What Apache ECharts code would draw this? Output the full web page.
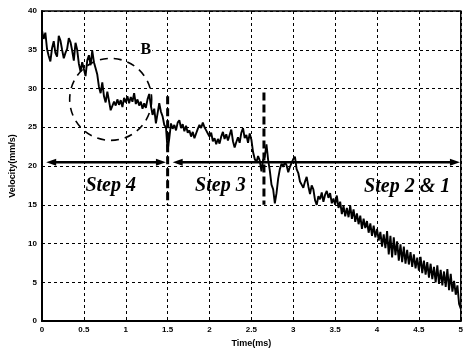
<!DOCTYPE html>
<html><head><meta charset="utf-8">
<script src="https://cdn.jsdelivr.net/npm/echarts@6/dist/echarts.min.js"></script>
<style>html,body{margin:0;padding:0;background:#fff}#c{width:466px;height:353px}</style>
</head><body><div id="c"></div>
<script>
// ---- data ----
const timeMs = [
0.00,0.02,0.04,0.06,0.08,0.10,0.12,0.14,0.16,0.18,
0.20,0.22,0.24,0.26,0.28,0.30,0.32,0.34,0.36,0.38,
0.40,0.42,0.44,0.46,0.48,0.50,0.52,0.54,0.56,0.58,
0.60,0.62,0.64,0.66,0.68,0.70,0.72,0.74,0.76,0.78,
0.80,0.82,0.84,0.86,0.88,0.90,0.92,0.94,0.96,0.98,
1.00,1.02,1.04,1.06,1.08,1.10,1.12,1.14,1.16,1.18,
1.20,1.22,1.24,1.26,1.28,1.30,1.32,1.34,1.36,1.38,
1.40,1.42,1.44,1.46,1.48,1.50,1.52,1.54,1.56,1.58,
1.60,1.62,1.64,1.66,1.68,1.70,1.72,1.74,1.76,1.78,
1.80,1.82,1.84,1.86,1.88,1.90,1.92,1.94,1.96,1.98,
2.00,2.02,2.04,2.06,2.08,2.10,2.12,2.14,2.16,2.18,
2.20,2.22,2.24,2.26,2.28,2.30,2.32,2.34,2.36,2.38,
2.40,2.42,2.44,2.46,2.48,2.50,2.52,2.54,2.56,2.58,
2.60,2.62,2.64,2.66,2.68,2.70,2.72,2.74,2.76,2.78,
2.80,2.82,2.84,2.86,2.88,2.90,2.92,2.94,2.96,2.98,
3.00,3.02,3.04,3.06,3.08,3.10,3.12,3.14,3.16,3.18,
3.20,3.22,3.24,3.26,3.28,3.30,3.32,3.34,3.36,3.38,
3.40,3.42,3.44,3.46,3.48,3.50,3.52,3.54,3.56,3.58,
3.60,3.62,3.64,3.66,3.68,3.70,3.72,3.74,3.76,3.78,
3.80,3.82,3.84,3.86,3.88,3.90,3.92,3.94,3.96,3.98,
4.00,4.02,4.04,4.06,4.08,4.10,4.12,4.14,4.16,4.18,
4.20,4.22,4.24,4.26,4.28,4.30,4.32,4.34,4.36,4.38,
4.40,4.42,4.44,4.46,4.48,4.50,4.52,4.54,4.56,4.58,
4.60,4.62,4.64,4.66,4.68,4.70,4.72,4.74,4.76,4.78,
4.80,4.82,4.84,4.86,4.88,4.90,4.92,4.94,4.96,4.98,
5.00];
const velocity = [
37.5,36.4,37.2,35.1,34.2,33.5,35.2,36.1,34.6,34.1,
36.8,36.2,35.0,33.9,34.6,35.1,36.5,36.0,34.9,33.6,
35.9,35.0,33.2,32.2,33.4,32.5,31.6,33.6,34.3,33.0,
34.9,33.4,32.6,31.8,30.2,29.4,30.8,29.0,28.2,29.6,
28.4,27.2,27.0,28.3,27.8,28.6,27.9,28.5,27.6,28.8,
28.2,29.0,28.1,28.9,28.3,29.4,28.0,28.6,27.8,28.3,
27.4,28.1,27.5,28.6,29.3,27.8,26.6,27.4,25.5,26.8,
28.1,27.0,26.4,25.3,25.0,22.0,23.6,25.5,24.8,25.3,
24.6,25.6,25.9,24.9,25.4,24.5,25.2,24.3,24.6,23.8,
24.4,23.6,24.2,24.8,25.3,24.9,25.6,25.0,24.6,24.2,
23.8,24.3,23.2,23.6,22.8,23.5,22.9,23.8,24.4,23.5,
24.1,23.3,24.0,24.7,23.2,22.4,23.1,23.7,23.0,24.3,
24.9,23.6,24.0,23.0,24.2,23.4,21.8,20.9,20.5,21.3,
20.7,19.3,20.8,21.2,22.8,20.8,19.4,17.6,17.0,15.2,
16.5,18.4,19.6,20.3,19.9,20.5,20.1,19.2,19.9,20.4,
20.9,21.2,19.6,19.1,18.0,17.6,17.2,18.0,18.6,17.4,
16.4,17.5,17.0,15.6,15.0,16.1,15.7,16.6,15.4,16.3,
16.8,15.9,16.5,15.2,15.8,15.0,16.2,14.6,15.4,13.8,
14.9,13.5,14.6,13.4,14.9,13.2,14.4,12.8,13.9,12.5,
13.6,11.9,13.2,12.0,12.9,11.4,12.6,11.0,12.3,10.8,
11.9,10.4,11.5,9.6,11.2,9.4,11.6,8.6,11.0,8.2,
10.8,8.5,10.3,7.8,9.9,7.6,9.6,7.4,9.2,7.3,
8.9,7.0,8.6,6.8,8.2,6.5,8.3,6.2,7.8,6.0,
7.6,5.6,7.4,5.4,7.0,5.0,7.2,4.8,6.6,4.6,
6.4,4.4,6.7,4.0,6.1,3.8,5.2,3.4,4.6,2.2,
1.6];
const stepNames = ['Step 4', 'Step 3', 'Step 2 & 1'];
const stepBounds = [0, 1.5, 2.65, 5];
const regionLabel = 'B';
const xAxisTitle = 'Time(ms)';
const yAxisTitle = 'Velocity(mm/s)';

// ---- chart ----
const chart = echarts.init(document.getElementById('c'));
const tickFont = {fontFamily:'Liberation Sans', fontWeight:'bold', fontSize:8, color:'#000'};
const seriesData = timeMs.map((t,i)=>[t, velocity[i]]);
chart.setOption({
  animation:false,
  backgroundColor:'#fff',
  grid:{left:42,right:4,top:11,bottom:27,show:true,borderColor:'#000',borderWidth:1.5},
  xAxis:{type:'value',min:0,max:5,interval:0.5,
    name:xAxisTitle,nameLocation:'middle',nameGap:16,
    nameTextStyle:{fontFamily:'Liberation Sans',fontWeight:'bold',fontSize:9,color:'#000'},
    axisLine:{lineStyle:{color:'#000',width:2}},
    axisTick:{inside:true,length:3,lineStyle:{color:'#000'}},
    axisLabel:Object.assign({margin:5},tickFont),
    splitLine:{show:true,lineStyle:{color:'#000',type:[3,3],width:1}}},
  yAxis:{type:'value',min:0,max:40,interval:5,
    name:yAxisTitle,nameLocation:'middle',nameGap:20,nameRotate:90,
    nameTextStyle:{fontFamily:'Liberation Sans',fontWeight:'bold',fontSize:9,color:'#000'},
    axisLine:{show:true,lineStyle:{color:'#000',width:2}},
    axisTick:{show:true,inside:true,length:3,lineStyle:{color:'#000'}},
    axisLabel:Object.assign({margin:5},tickFont),
    splitLine:{show:true,lineStyle:{color:'#000',type:[3,3],width:1}}},
  series:[{type:'line',data:seriesData,showSymbol:false,symbol:'none',
    lineStyle:{color:'#000',width:1.9},z:5}]
});

const P = (t,v) => chart.convertToPixel({gridIndex:0},[t,v]);
const g = [];
function arrowHead(tip, dir){ // dir: -1 left, +1 right
  const L=10,H=3.5;
  return {type:'polygon',z:20,shape:{points:[[tip[0],tip[1]],[tip[0]-dir*L,tip[1]-H],[tip[0]-dir*L,tip[1]+H]]},style:{fill:'#000'}};
}
// arrows at v = 20.5
const yA = 20.5;
const a1 = P(0.05,yA), a2 = P(1.48,yA), b1 = P(1.56,yA), b2 = P(4.99,yA);
g.push({type:'line',z:20,shape:{x1:a1[0]+6,y1:a1[1],x2:a2[0]-6,y2:a2[1]},style:{stroke:'#000',lineWidth:2.5}});
g.push(arrowHead(a1,-1)); g.push(arrowHead(a2,1));
g.push({type:'line',z:20,shape:{x1:b1[0]+6,y1:b1[1],x2:b2[0]-6,y2:b2[1]},style:{stroke:'#000',lineWidth:2.5}});
g.push(arrowHead(b1,-1)); g.push(arrowHead(b2,1));
// vertical dashed step boundaries
[[stepBounds[1],29,15],[stepBounds[2],29.5,15]].forEach(([t,top,bot])=>{
  const p1=P(t,top),p2=P(t,bot);
  g.push({type:'line',z:20,shape:{x1:p1[0],y1:p1[1],x2:p2[0],y2:p2[1]},style:{stroke:'#000',lineWidth:3,lineDash:[8,4]}});
});
// step labels
const labelPos = [[0.82,17.5],[2.13,17.5],[4.36,17.3]];
stepNames.forEach((s,i)=>{
  const p=P(labelPos[i][0],labelPos[i][1]);
  g.push({type:'text',z:21,x:p[0],y:p[1],style:{text:s,fill:'#000',font:'italic bold 20px "Liberation Serif"',align:'center',verticalAlign:'middle'}});
});
// dashed circle B
const c = P(0.82,28.6);
g.push({type:'circle',z:19,shape:{cx:c[0],cy:c[1],r:41},style:{fill:'none',stroke:'#000',lineWidth:1.6,lineDash:[8,6]}});
const bp = P(1.24,35.0);
g.push({type:'text',z:21,x:bp[0],y:bp[1],style:{text:regionLabel,fill:'#000',font:'bold 16px "Liberation Serif"',align:'center',verticalAlign:'middle',backgroundColor:'#fff',padding:[0,1]}});
chart.setOption({graphic:g});
</script></body></html>
